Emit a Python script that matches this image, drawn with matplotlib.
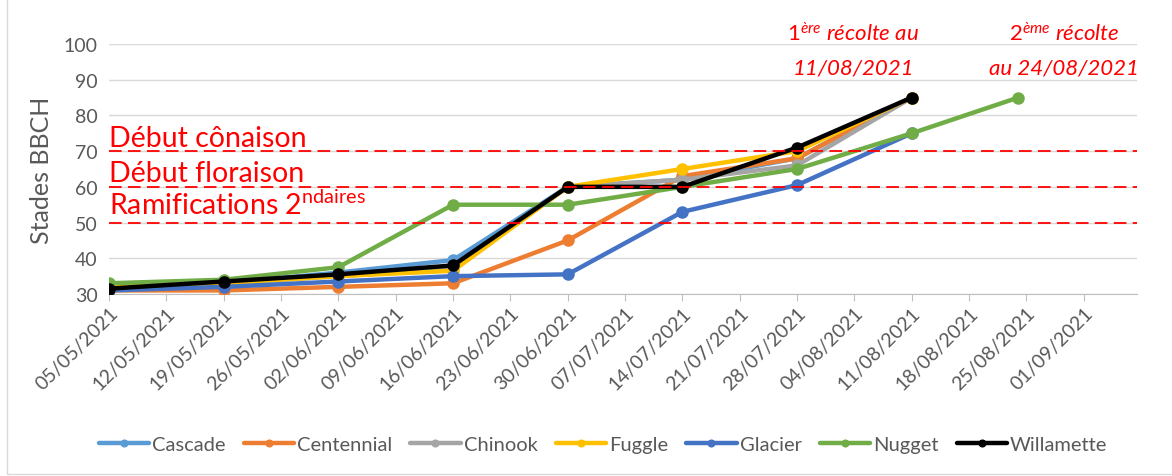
import matplotlib
matplotlib.use("Agg")
import matplotlib.pyplot as plt
import matplotlib.dates as mdates
from matplotlib.patches import Rectangle
import pandas as pd

plt.rcParams['font.family'] = ['Lato', 'DejaVu Sans']
plt.rcParams['mathtext.fontset'] = 'custom'
plt.rcParams['mathtext.rm'] = 'Lato'
plt.rcParams['mathtext.it'] = 'Lato:italic'

# BBCH stages per variety, one reading every two weeks
dates = pd.to_datetime(['2021-05-05', '2021-05-19', '2021-06-02', '2021-06-16',
                        '2021-06-30', '2021-07-14', '2021-07-28', '2021-08-11'])
nugget_dates = dates.append(pd.to_datetime(['2021-08-24']))

cascade = [32, 33, 36, 39.5, 60, 62, 68, 85]
centennial = [31, 31, 32, 33, 45, 63, 68, 85]
chinook = [32, 33, 35, 37, 60, 62, 66, 85]
fuggle = [32, 33, 35, 36.5, 60, 65, 70, 85]
glacier = [31, 32, 33.5, 35, 35.5, 53, 60.5, 75]
nugget = [33, 34, 37.5, 55, 55, 60, 65, 75, 85]
willamette = [31.5, 33.5, 35.5, 38, 60, 60, 71, 85]

series = [
    ('Cascade', dates, cascade, '#5B9BD5'),
    ('Centennial', dates, centennial, '#ED7D31'),
    ('Chinook', dates, chinook, '#A5A5A5'),
    ('Fuggle', dates, fuggle, '#FFC000'),
    ('Glacier', dates, glacier, '#4472C4'),
    ('Nugget', nugget_dates, nugget, '#70AD47'),
    ('Willamette', dates, willamette, '#000000'),
]

# stage thresholds (dashed lines)
stage_values = [70, 60, 50]

tick_dates = pd.date_range('2021-05-05', '2021-09-01', freq='7D')

fig = plt.figure(figsize=(11.72, 4.77), dpi=100)
fig.patches.append(Rectangle((7 / 1172, 2 / 477), 1.2, 1.2, transform=fig.transFigure,
                             fill=False, edgecolor='#D9D9D9', linewidth=1))
ax = fig.add_axes([109 / 1172, 182 / 477, 1028 / 1172, 250 / 477])

grey = '#595959'
for i, (name, x, y, col) in enumerate(series):
    ax.plot(x, y, color=col, linewidth=3.2, marker='o', markersize=8,
            label=name, zorder=3 + i, solid_capstyle='round')

for v in stage_values:
    ax.axhline(v, color='#FF0000', linewidth=1.3, dashes=(7, 3.5), zorder=20)

ax.set_ylim(30, 100)
ax.set_yticks(range(30, 101, 10))
ax.set_xlim(mdates.date2num(pd.Timestamp('2021-05-05')),
            mdates.date2num(pd.Timestamp('2021-05-05')) + 125.5)
ax.set_xticks(tick_dates)
ax.xaxis.set_major_formatter(mdates.DateFormatter('%d/%m/%Y'))
ax.grid(axis='y', color='#D9D9D9', linewidth=1)
ax.set_axisbelow(True)
for s in ['top', 'right', 'left']:
    ax.spines[s].set_visible(False)
ax.spines['bottom'].set_color('#BFBFBF')
ax.spines['bottom'].set_zorder(1)
ax.tick_params(axis='y', length=0, labelsize=14, labelcolor=grey, pad=8)
ax.tick_params(axis='x', length=5, color='#BFBFBF', labelsize=14, labelcolor=grey, pad=2)
for lab in ax.get_xticklabels():
    lab.set_rotation(45)
    lab.set_ha('right')
    lab.set_rotation_mode('anchor')
ax.set_ylabel('Stades BBCH', fontsize=18, color=grey, labelpad=8)

red = '#FF0000'
x0 = mdates.date2num(pd.Timestamp('2021-05-05'))
ax.text(x0, 71.5, 'Début cônaison', color=red, fontsize=20.5, ha='left', va='baseline', zorder=25)
ax.text(x0, 61.7, 'Début floraison', color=red, fontsize=20.5, ha='left', va='baseline', zorder=25)
ax.text(x0, 52.5, r'Ramifications 2$^{\mathrm{ndaires}}$', color=red, fontsize=20.5,
        ha='left', va='baseline', zorder=25)

# harvest notes above the plot
fig.text(853 / 1172, 1 - 34 / 477, r'$\mathit{1^{ère}}$ récolte au', color=red, fontsize=16,
         style='italic', ha='center', va='center')
fig.text(853 / 1172, 1 - 68 / 477, '11/08/2021', color=red, fontsize=16,
         style='italic', ha='center', va='center')
fig.text(1064 / 1172, 1 - 34 / 477, r'$\mathit{2^{ème}}$ récolte', color=red, fontsize=16,
         style='italic', ha='center', va='center')
fig.text(1064 / 1172, 1 - 68 / 477, 'au 24/08/2021', color=red, fontsize=16,
         style='italic', ha='center', va='center')

handles, labels = ax.get_legend_handles_labels()
leg = fig.legend(handles, labels, loc='center', bbox_to_anchor=(603 / 1172, 1 - 445 / 477),
                 ncol=7, frameon=False, fontsize=14.5, handlelength=2.5, handletextpad=0.15,
                 columnspacing=0.9, markerscale=0.6)
for t in leg.get_texts():
    t.set_color(grey)

fig.savefig('out.png', dpi=100)
